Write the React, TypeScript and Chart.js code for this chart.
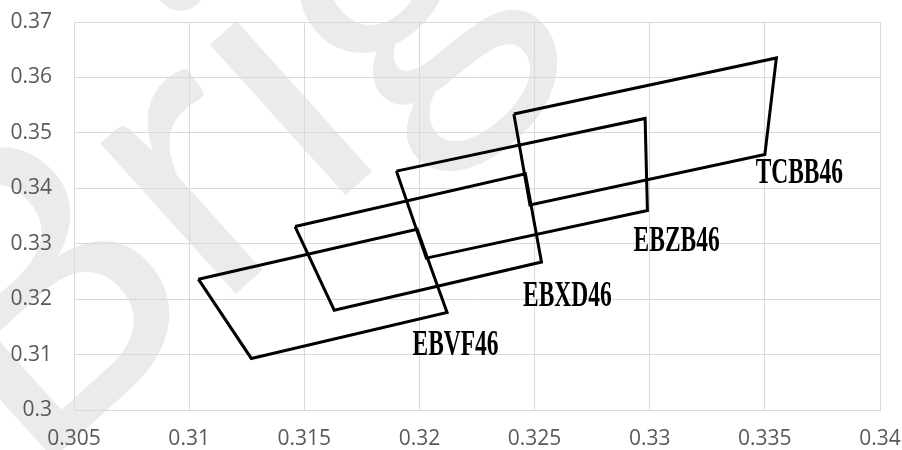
import React, { useEffect, useRef } from 'react';
import { Chart, registerables } from 'chart.js';

Chart.register(...registerables);

// Series names
const seriesNames = ['EBVF46', 'EBXD46', 'EBZB46', 'TCBB46'];

// Quadrilateral vertices (top-left, top-right, bottom-right, bottom-left)
const ebvf46X = [0.3104, 0.3199, 0.3212, 0.3127];
const ebvf46Y = [0.3236, 0.3326, 0.3176, 0.3093];
const ebxd46X = [0.3146, 0.3246, 0.3253, 0.3163];
const ebxd46Y = [0.3331, 0.3426, 0.3267, 0.3180];
const ebzb46X = [0.3190, 0.3298, 0.3299, 0.3203];
const ebzb46Y = [0.3431, 0.3526, 0.3360, 0.3274];
const tcbb46X = [0.3241, 0.3355, 0.3350, 0.3248];
const tcbb46Y = [0.3534, 0.3635, 0.3461, 0.3370];

// Label anchors (data units: left edge, baseline)
const labelX = [0.3197, 0.3245, 0.3293, 0.3346];
const labelY = [0.3099, 0.3188, 0.3287, 0.3409];

// Axis ticks
const xTicks = [0.305, 0.31, 0.315, 0.32, 0.325, 0.33, 0.335, 0.34];
const yTicks = [0.3, 0.31, 0.32, 0.33, 0.34, 0.35, 0.36, 0.37];

const watermarkText = 'Bright';

const allX = [ebvf46X, ebxd46X, ebzb46X, tcbb46X];
const allY = [ebvf46Y, ebxd46Y, ebzb46Y, tcbb46Y];

const fmt = (v: number) => String(Number(v.toFixed(3)));

export default function App() {
  const ref = useRef<HTMLCanvasElement | null>(null);

  useEffect(() => {
    if (!ref.current) return;

    const datasets = seriesNames.map((name, i) => {
      const xs = allX[i];
      const ys = allY[i];
      const pts = xs.map((x, k) => ({ x, y: ys[k] }));
      pts.push({ x: xs[0], y: ys[0] });
      return {
        label: name,
        data: pts,
        showLine: true,
        borderColor: '#000000',
        backgroundColor: '#000000',
        borderWidth: 3,
        borderJoinStyle: 'miter' as const,
        pointRadius: 0,
        pointHoverRadius: 0,
        fill: false,
        tension: 0,
      };
    });

    const watermark = {
      id: 'watermark',
      beforeDraw(chart: any) {
        const ctx = chart.ctx;
        ctx.save();
        ctx.translate(26, 483);
        ctx.rotate((-42 * Math.PI) / 180);
        ctx.font = '400px Lato';
        ctx.fillStyle = '#ebebeb';
        ctx.textBaseline = 'alphabetic';
        ctx.textAlign = 'left';
        ctx.fillText(watermarkText, 0, 0);
        ctx.restore();
      },
    };

    const seriesLabels = {
      id: 'seriesLabels',
      afterDatasetsDraw(chart: any) {
        const ctx = chart.ctx;
        const xs = chart.scales.x;
        const ys = chart.scales.y;
        ctx.save();
        ctx.fillStyle = '#000000';
        ctx.font = 'bold 35px "Liberation Serif"';
        ctx.textBaseline = 'alphabetic';
        ctx.textAlign = 'left';
        seriesNames.forEach((name, i) => {
          const px = xs.getPixelForValue(labelX[i]);
          const py = ys.getPixelForValue(labelY[i]);
          ctx.save();
          ctx.translate(px, py);
          ctx.scale(0.67, 1);
          ctx.fillText(name, 0, 0);
          ctx.restore();
        });
        ctx.restore();
      },
    };

    const chart = new Chart(ref.current, {
      type: 'scatter',
      data: { datasets },
      options: {
        animation: false,
        responsive: false,
        events: [],
        layout: { padding: { top: 22, right: 22, left: 0, bottom: 0 } },
        plugins: {
          legend: { display: false },
          tooltip: { enabled: false },
          title: { display: false },
        },
        scales: {
          x: {
            type: 'linear',
            min: 0.305,
            max: 0.34,
            afterBuildTicks: (s: any) => {
              s.ticks = xTicks.map((v) => ({ value: v }));
            },
            afterFit: (s: any) => {
              s.height = 40;
            },
            grid: {
              color: '#d9d9d9',
              lineWidth: 1,
              drawTicks: true,
              tickLength: 16,
              tickColor: 'rgba(0,0,0,0)',
            },
            border: { color: '#d9d9d9', width: 1 },
            ticks: {
              callback: (v: any) => fmt(Number(v)),
              color: '#595959',
              font: { family: '"Open Sans"', size: 21 },
              padding: 0,
              maxRotation: 0,
              autoSkip: false,
            },
          },
          y: {
            type: 'linear',
            min: 0.3,
            max: 0.37,
            afterBuildTicks: (s: any) => {
              s.ticks = yTicks.map((v) => ({ value: v }));
            },
            afterFit: (s: any) => {
              s.width = 74;
            },
            grid: {
              color: '#d9d9d9',
              lineWidth: 1,
              drawTicks: true,
              tickLength: 22,
              tickColor: 'rgba(0,0,0,0)',
            },
            border: { color: '#d9d9d9', width: 1 },
            ticks: {
              callback: (v: any) => fmt(Number(v)),
              color: '#595959',
              font: { family: '"Open Sans"', size: 21 },
              padding: 0,
              autoSkip: false,
            },
          },
        },
      },
      plugins: [watermark, seriesLabels],
    });

    return () => chart.destroy();
  }, []);

  return (
    <div style={{ position: 'absolute', left: 0, top: 0, width: 902, height: 450, background: '#ffffff' }}>
      <canvas ref={ref} width={902} height={450} style={{ display: 'block' }} />
    </div>
  );
}
